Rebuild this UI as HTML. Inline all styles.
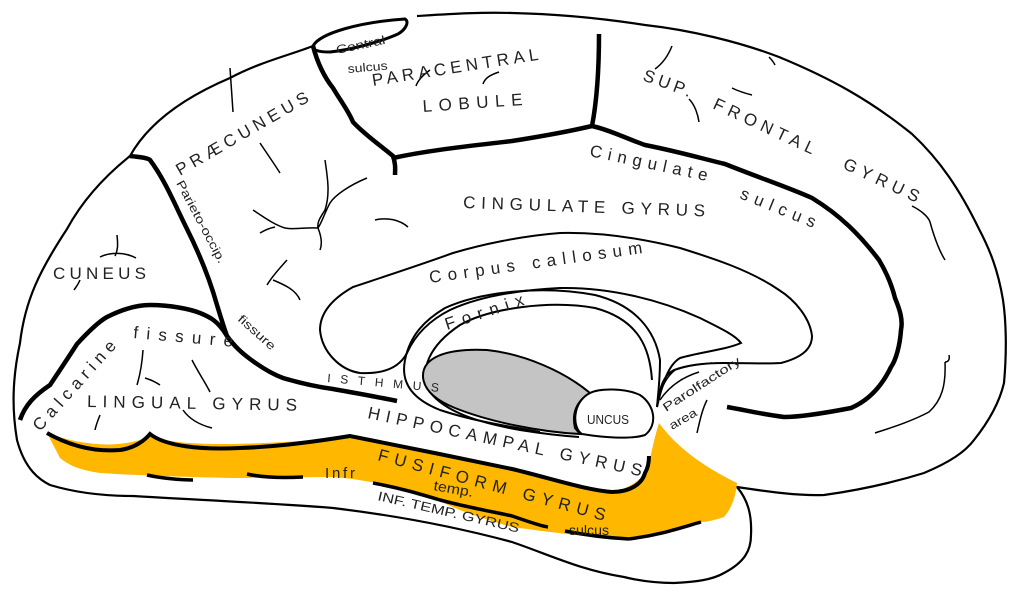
<!DOCTYPE html>
<html><head><style>
body{margin:0;background:#fff;}
svg{display:block;}
text{font-family:"Liberation Sans",sans-serif;fill:#222;}
</style></head><body>
<svg width="1024" height="597" viewBox="0 0 1024 597">
<!-- outer outline -->
<path d="M313,46 C290,55 260,62 230,78 C190,95 150,120 130,156 C100,180 80,205 67,229 C40,270 25,300 20,343 C12,380 12,410 17,440 C25,470 40,480 50,485 C80,494 110,496 133,496 C200,500 270,503 333,508 C400,516 460,528 512,542 C550,555 580,570 624,577 C640,581 655,583 674,583 C695,582 712,580 724,573 C745,562 751,550 751,535 C752,515 748,500 737,487 C770,492 800,496 824,495 C860,490 895,482 924,473 C950,462 965,452 974,440 C990,420 1000,400 1004,383 C1007,350 1006,320 1003,300 C998,270 990,250 979,229 C960,190 940,160 912,134 C870,100 830,78 779,57 C740,42 690,30 645,25 C600,18 560,14 512,13 C480,12 450,14 417,16" fill="#fff" stroke="#000" stroke-width="2.2"/>
<!-- central sulcus oval -->
<path d="M313,46 C320,33 360,22 405,19 C410,22 405,30 398,34 C380,42 350,50 330,52 C318,52 312,50 313,46 Z" fill="#fff" stroke="#000" stroke-width="3"/>
<!-- orange fusiform -->
<path d="M47,433 C80,445 120,450 150,436 C180,448 260,445 350,437 C420,450 470,460 512,469 C560,482 600,495 612,492 C630,488 640,480 645,473 C650,465 652,445 659,423 C675,445 700,465 737,483 C736,495 732,508 724,517 C712,521 705,522 701,522 C670,530 650,535 629,538 C590,538 550,532 512,527 C470,515 450,507 433,497 C400,488 370,480 333,477 C300,477 260,478 233,478 C180,477 130,475 100,473 C80,470 70,466 60,458 Z" fill="#ffb700"/>
<!-- thick border above orange -->
<path d="M47,433 C70,446 95,452 120,450 C135,448 145,440 150,434 C165,446 200,450 240,448 C270,447 300,444 350,436 C400,446 460,458 512,469 C550,478 585,490 612,492 C630,492 642,484 645,473 C648,468 649,462 649,456" fill="none" stroke="#000" stroke-width="4"/>
<!-- sulcus lines under orange -->
<path d="M147,475 C160,478 180,480 193,480 M247,474 C265,478 285,478 303,477 M373,483 C400,488 420,494 440,500 C470,508 495,512 512,516 C530,522 540,526 548,527 M629,539 C660,535 680,528 701,522 M565,531 C590,536 610,538 629,539" fill="none" stroke="#000" stroke-width="3.5"/>
<!-- corpus callosum -->
<path d="M657,407 C660,385 664,375 674,370 C690,364 710,363 724,363 C750,363 770,364 781,363 C800,358 812,350 812,336 C810,318 795,300 779,290 C750,270 712,258 680,248 C640,238 600,232 560,233 C520,236 480,245 453,253 C420,265 380,278 353,287 C330,300 320,315 320,330 C322,352 340,370 360,373 C380,374 398,370 407,353 C415,335 430,320 450,310 C480,296 520,290 560,288 C610,287 660,300 700,318 C720,328 735,335 741,343 C725,350 700,352 680,358 C668,365 662,385 657,407 Z" fill="#fff" stroke="#000" stroke-width="2"/>
<!-- fornix -->
<path d="M405,360 C410,335 425,320 445,308 C480,292 540,285 595,295 C635,305 655,330 660,360 C660,380 658,395 657,407" fill="none" stroke="#000" stroke-width="2"/>
<path d="M652,380 C650,350 640,320 595,308 C550,300 490,308 460,325 C430,345 418,370 430,392 C445,412 480,423 520,430 C545,434 565,436 579,437" fill="none" stroke="#000" stroke-width="2"/>
<path d="M405,360 C400,385 415,400 440,410 C470,420 500,425 540,432" fill="none" stroke="#000" stroke-width="2"/>
<!-- gray -->
<path d="M423,377 C422,358 445,348 487,350 C525,354 565,372 590,393 C575,402 572,415 575,428 L580,434 C540,432 490,422 455,408 C435,400 424,390 423,377 Z" fill="#c4c4c4" stroke="#000" stroke-width="2"/>
<!-- uncus -->
<path d="M590,393 C600,388 625,388 640,395 C655,405 658,425 645,435 C630,440 600,437 582,434 C572,428 572,402 590,393 Z" fill="#fff" stroke="#000" stroke-width="2"/>
<!-- major sulci -->
<path d="M313,46 C318,65 325,78 333,88 C340,100 348,110 353,122 C365,135 380,145 393,156 C396,165 395,170 395,175 M393,158 C430,150 470,146 512,141 C550,135 575,130 592,126 C597,100 599,70 599,34 M592,126 C610,130 625,138 645,145 C680,152 700,158 725,164 C760,178 790,188 812,198 C840,215 860,235 879,260 C888,275 893,290 895,298 C900,310 903,320 901,330 C900,345 896,360 891,367 C880,390 865,402 851,408 C820,414 800,417 784,417 C760,414 745,410 727,407" fill="none" stroke="#000" stroke-width="4.5"/>
<path d="M130,156 C140,157 148,158 150,160 C165,180 175,205 187,229 C200,255 210,280 217,305 C221,318 224,328 227,336 C235,347 242,353 250,359 C262,368 272,374 283,378 C300,383 318,387 333,389 C355,393 378,397 397,401" fill="none" stroke="#000" stroke-width="4.5"/>
<path d="M20,420 C25,405 35,395 50,385 C60,370 70,355 77,344 C88,332 98,322 107,317 C125,308 140,305 150,305 C170,305 190,309 200,313 C210,317 218,321 227,336" fill="none" stroke="#000" stroke-width="4.5"/>
<!-- minor sulci -->
<path d="M230,68 L233,112 M260,143 C268,155 275,165 280,173 M325,160 C328,180 330,195 325,210 C320,218 317,222 318,228 C322,238 322,245 320,250 M367,178 C350,185 335,195 330,203 C325,212 322,222 318,228 M253,210 C265,218 275,225 285,228 C295,230 305,227 318,228 M260,233 C265,230 270,228 275,227 M287,260 C280,268 273,275 267,285 M273,280 C285,285 296,290 300,300 M375,220 C388,217 400,220 408,227 M117,235 C118,245 118,250 115,256 M100,257 C110,252 125,252 136,258 M80,280 C78,285 76,287 74,290 M143,350 C142,365 140,375 137,385 M145,378 C152,380 157,383 160,385 M192,360 C198,372 205,382 210,392 M183,410 C190,420 200,425 212,428 M100,415 C98,420 96,425 95,430 M430,70 C423,75 418,80 416,86 M499,72 C490,75 485,78 483,84 M672,46 C668,56 662,64 655,69 M732,88 C740,92 748,94 752,95 M689,99 C695,105 698,115 699,122 M769,57 C772,60 774,63 775,65 M912,206 C920,210 928,216 930,222 C935,240 940,252 945,260 M949,355 C950,360 948,362 945,362 M945,362 C946,385 942,400 929,412 C910,422 890,428 875,433" fill="none" stroke="#000" stroke-width="1.5"/>
<!-- olfactory lines -->
<path d="M657,407 C660,390 665,378 675,370 C690,365 700,364 712,363 M660,400 C668,388 680,378 699,372 M707,400 C702,410 700,420 697,433" fill="none" stroke="#000" stroke-width="1.5"/>
<!-- labels -->
<g font-size="17">
<text x="373" y="86" textLength="168" lengthAdjust="spacing" transform="rotate(-9 373 86)">PARACENTRAL</text>
<text x="423" y="112" textLength="100" lengthAdjust="spacing" transform="rotate(-4 423 112)">LOBULE</text>
<text x="180" y="176" textLength="150" lengthAdjust="spacing" transform="rotate(-30 180 176)">PRÆCUNEUS</text>
<text x="642" y="80" textLength="50" lengthAdjust="spacing" transform="rotate(20 642 80)">SUP.</text>
<text x="712" y="108" textLength="110" lengthAdjust="spacing" transform="rotate(25 712 108)">FRONTAL</text>
<text x="842" y="168" textLength="82" lengthAdjust="spacing" transform="rotate(25 842 168)">GYRUS</text>
<text x="589" y="156" textLength="120" lengthAdjust="spacing" transform="rotate(12 589 156)">Cingulate</text>
<text x="739" y="198" textLength="80" lengthAdjust="spacing" transform="rotate(22 739 198)">sulcus</text>
<text x="463" y="208" textLength="242" lengthAdjust="spacing" transform="rotate(2 463 208)">CINGULATE GYRUS</text>
<text x="53" y="279" textLength="93" lengthAdjust="spacing">CUNEUS</text>
<text x="430" y="283" textLength="215" lengthAdjust="spacing" transform="rotate(-8 430 283)">Corpus callosum</text>
<text x="447" y="330" textLength="82" lengthAdjust="spacing" transform="rotate(-18 447 330)">Fornix</text>
<text x="40" y="432" textLength="115" lengthAdjust="spacing" transform="rotate(-48 40 432)">Calcarine</text>
<text x="133" y="338" textLength="100" lengthAdjust="spacing" transform="rotate(5 133 338)">fissure</text>
<text x="87" y="407" textLength="210" lengthAdjust="spacing" transform="rotate(1 87 407)">LINGUAL GYRUS</text>
<text x="367" y="418" textLength="280" lengthAdjust="spacing" transform="rotate(12 367 418)">HIPPOCAMPAL GYRUS</text>
<text x="377" y="460" textLength="235" lengthAdjust="spacing" transform="rotate(15 377 460)">FUSIFORM GYRUS</text>
</g>
<g font-size="12">
<text x="337" y="54" textLength="50" lengthAdjust="spacingAndGlyphs" transform="rotate(-12 337 54)">Central</text>
<text x="348" y="73" textLength="40" lengthAdjust="spacingAndGlyphs" transform="rotate(-5 348 73)">sulcus</text>
<text x="176" y="183" textLength="92" lengthAdjust="spacingAndGlyphs" transform="rotate(62 176 183)">Parieto-occip.</text>
<text x="237" y="320" textLength="46" lengthAdjust="spacingAndGlyphs" transform="rotate(42 237 320)">fissure</text>
<text x="327" y="382" textLength="112" lengthAdjust="spacing" transform="rotate(5 327 382)">ISTHMUS</text>
<text x="587" y="424" font-size="13" textLength="42" lengthAdjust="spacingAndGlyphs">UNCUS</text>
<text x="666" y="412" textLength="90" lengthAdjust="spacingAndGlyphs" transform="rotate(-33 666 412)">Parolfactory</text>
<text x="672" y="430" textLength="30" lengthAdjust="spacingAndGlyphs" transform="rotate(-30 672 430)">area</text>
<text x="325" y="478" font-size="15" textLength="30" lengthAdjust="spacing">Infr</text>
<text x="433" y="490" font-size="14" textLength="40" lengthAdjust="spacingAndGlyphs" transform="rotate(10 433 490)">temp.</text>
<text x="377" y="500" font-size="13" textLength="145" lengthAdjust="spacingAndGlyphs" transform="rotate(13 377 500)">INF. TEMP. GYRUS</text>
<text x="569" y="535" font-size="14" textLength="40" lengthAdjust="spacingAndGlyphs">sulcus</text>
</g>
</svg>
</body></html>
